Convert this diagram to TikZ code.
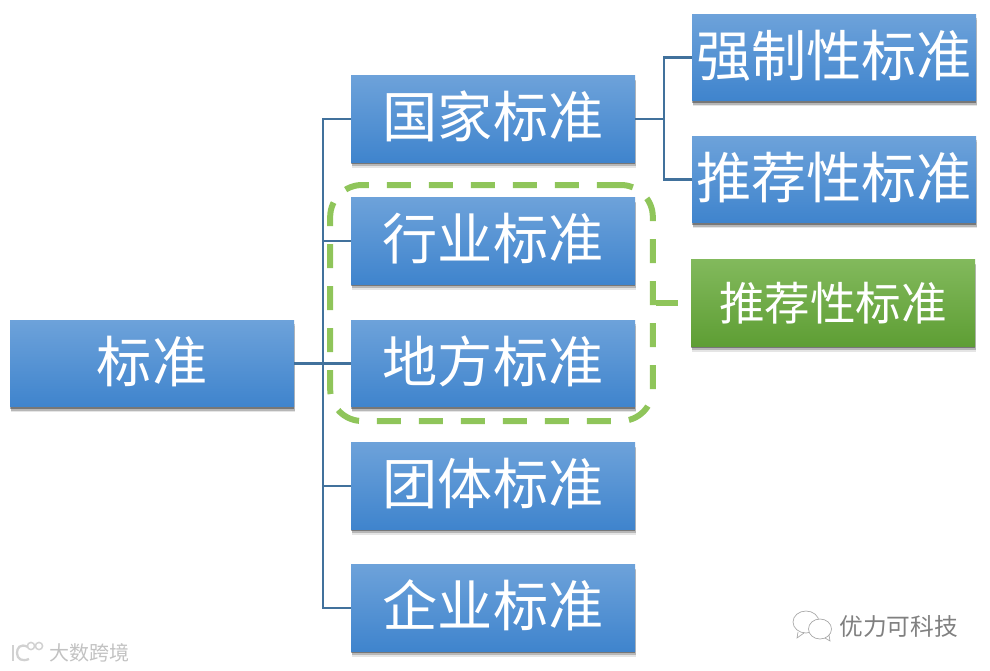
\documentclass[tikz,border=0pt]{standalone}
\usepackage{fontspec}
\setmainfont{Noto Sans CJK SC}
\usetikzlibrary{shadows}
\definecolor{linkblue}{HTML}{41719C}
\definecolor{dashgreen}{HTML}{8FC55A}
\definecolor{marktext}{HTML}{808080}
\definecolor{boxtop}{HTML}{6DA2DA}
\definecolor{boxbottom}{HTML}{3F84CD}
\definecolor{greentop}{HTML}{82B95C}
\definecolor{greenbottom}{HTML}{5E9E34}
\tikzset{
  softshadow/.style={
    general shadow={fill=black,opacity=.10,shadow xshift=.8pt,shadow yshift=-4.2pt},
    general shadow={fill=black,opacity=.20,shadow xshift=.6pt,shadow yshift=-3pt},
    general shadow={fill=black,opacity=.35,shadow xshift=.3pt,shadow yshift=-1.6pt}},
  blockbase/.style={softshadow,minimum width=213pt,minimum height=65pt,inner sep=0pt,
    text=white},
  bluebox/.style={blockbase,top color=boxtop,bottom color=boxbottom,
    text height=30pt,text depth=2.2pt,font=\fontsize{41.4pt}{44pt}\selectfont},
  greenbox/.style={blockbase,top color=greentop,bottom color=greenbottom,
    font=\fontsize{34.2pt}{38pt}\selectfont},
  link/.style={draw=linkblue,line width=1.9pt},
  groupframe/.style={draw=dashgreen,line width=4.5pt,dash pattern=on 18pt off 13.5pt,
    rounded corners=24pt,minimum width=242pt,minimum height=177pt,inner sep=0pt},
  tick/.style={draw=dashgreen,line width=4.1pt},
  markicon/.style={draw=marktext!70,line width=.5pt},
  marklogo/.style={draw=black!18,line width=1.7pt},
  marklabel/.style={text=marktext,font=\fontsize{17.8pt}{20pt}\selectfont,inner sep=0pt},
  markfaint/.style={text=black!24,font=\fontsize{15pt}{18pt}\selectfont,inner sep=0pt}
}
\begin{document}
\begin{tikzpicture}[x=.75pt,y=-.75pt]
\useasboundingbox (0,0) rectangle (990,671);
\coordinate (trunk) at (323,363);
\coordinate (fork) at (664,119);
\node[bluebox] (root) at (152,363.5) {标准};
\node[bluebox] (guo) at (493,119) {国家标准};
\node[bluebox] (hang) at (493,241) {行业标准};
\node[bluebox] (di) at (493,363.5) {地方标准};
\node[bluebox] (tuan) at (493,486) {团体标准};
\node[bluebox] (qi) at (493,608) {企业标准};
\node[bluebox] (qiang) at (834,57.5) {强制性标准};
\node[bluebox] (tui) at (834,179.5) {推荐性标准};
\node[greenbox] (green) at (833,303) {推荐性标准};
\draw[link] (root.east) -- (di.west);
\draw[link] (guo.west) -- (trunk |- guo.west) -- (trunk |- qi.west) -- (qi.west);
\draw[link] (trunk |- hang.west) -- (hang.west);
\draw[link] (trunk |- tuan.west) -- (tuan.west);
\draw[link] (guo.east) -- (fork);
\draw[link] (qiang.west) -- (fork |- qiang.west) -- (fork |- tui.west) -- (tui.west);
\node[groupframe] (grp) at (491.5,303) {};
\coordinate (tickend) at (678,303);
\draw[tick] (grp.east) -- (tickend);
\node[marklabel,anchor=west] (youli) at (839,627) {优力可科技};
\draw[markicon] (806,622) ellipse (13 and 11);
\draw[markicon,fill=white] (820,629) ellipse (11.5 and 10);
\draw[markicon] (825,638) -- (830,641) -- (829,635);
\draw[markicon] (798,632) -- (797,638) -- (804,633);
\node[markfaint,anchor=west] (dashu) at (49,652.5) {大数跨境};
\draw[marklogo] (13,645) -- (13,661);
\draw[marklogo] (28,647) .. controls (20,643) and (17,648) .. (17,653) .. controls (17,659) and (22,662) .. (29,659);
\draw[marklogo,line width=1.1pt] (31,646) circle (3.6);
\draw[marklogo,line width=1.1pt] (39,646) circle (3.6);
\end{tikzpicture}
\end{document}
